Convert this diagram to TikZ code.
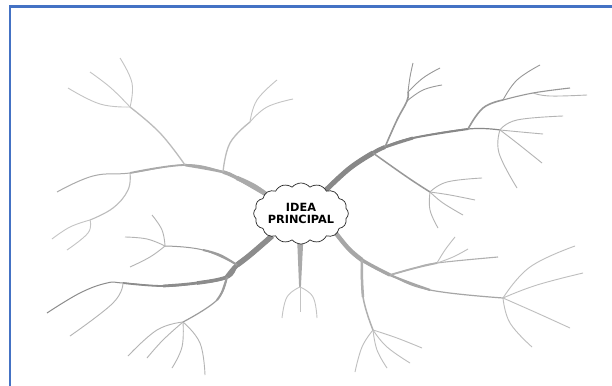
\documentclass[tikz,border=0pt]{standalone}
\usepackage{fontspec}
\newfontfamily\ideafont{DejaVu Sans}
\usetikzlibrary{shapes.symbols,backgrounds}
\definecolor{frameblue}{RGB}{68,114,196}
\definecolor{ulmain}{RGB}{170,170,170}
\definecolor{ulsub}{RGB}{188,188,188}
\definecolor{ultwig}{RGB}{196,196,196}
\definecolor{llmain}{RGB}{140,140,140}
\definecolor{llsub}{RGB}{156,156,156}
\definecolor{lltwig}{RGB}{180,180,180}
\definecolor{urmain}{RGB}{136,136,136}
\definecolor{ursub}{RGB}{152,152,152}
\definecolor{urtwig}{RGB}{180,180,180}
\definecolor{lrmain}{RGB}{166,166,166}
\definecolor{lrsub}{RGB}{176,176,176}
\definecolor{lrtwig}{RGB}{190,190,190}
\begin{document}
\begin{tikzpicture}[x=1pt,y=-1pt,line cap=round,line join=round,
  ideacloud/.style={cloud,cloud puffs=16,cloud puff arc=100,cloud ignores aspect,
    draw=black!85,fill=white,line width=0.7pt,minimum width=78pt,minimum height=61pt,
    inner sep=0pt,align=center,font=\ideafont\bfseries\fontsize{11.3}{12.5}\selectfont},
  twigline/.style={line width=0.9pt},
  framestroke/.style={draw=frameblue,line width=2.2pt},
  every plot/.style={smooth,tension=0.7}]
\useasboundingbox (0,0) rectangle (612,385);

\node[ideacloud] (idea) at (301,213.5) {IDEA\\PRINCIPAL};

% named points
\coordinate (ulS) at (270,197);
\coordinate (ulA) at (223,172);
\coordinate (ulB) at (185,165);
\coordinate (ulC) at (130,173);
\coordinate (ulE) at (57,192);
\coordinate (ulF) at (130,107);
\coordinate (ulG) at (250,122);
\coordinate (ulH) at (90,220);
\coordinate (llS) at (272,236);
\coordinate (llA) at (237,265);
\coordinate (llB) at (227,277);
\coordinate (llC) at (123,283);
\coordinate (llE) at (47,313);
\coordinate (llF) at (165,246);
\coordinate (llG) at (183,322);
\coordinate (bcA) at (300,287);
\coordinate (urS) at (326,190);
\coordinate (urA) at (373,153);
\coordinate (urB) at (385,147);
\coordinate (urC) at (413,138);
\coordinate (urD) at (468,129);
\coordinate (urE) at (500,130);
\coordinate (urF) at (430,192);
\coordinate (urG) at (407,101);
\coordinate (urH) at (408,92);
\coordinate (urI) at (503,100);
\coordinate (urJ) at (533,93);
\coordinate (lrS) at (332,228);
\coordinate (lrA) at (362,260);
\coordinate (lrB) at (390,275);
\coordinate (lrC) at (430,290);
\coordinate (lrE) at (503,298);
\coordinate (lrF) at (437,263);
\coordinate (lrG) at (373,330);

\begin{scope}[on background layer]
\fill[white] (0,0) rectangle (612,385);
\draw[framestroke] (9.8,386) -- (9.8,6.6) -- (613,6.6);
% ---------- upper left ----------
\draw[ulmain,line width=1pt] plot coordinates {(ulS) (237,178) (ulA) (ulB) (ulC) (93,176) (ulE)};
\draw[ulmain,line width=1.8pt] plot coordinates {(ulS) (237,178) (ulA) (ulB) (ulC)};
\draw[ulmain,line width=2.6pt] plot coordinates {(ulS) (237,178) (ulA) (ulB)};
\draw[ulmain,line width=3.6pt] plot coordinates {(ulS) (237,178) (ulA)};
\draw[ulmain,line width=4.4pt] plot coordinates {(ulS) (254,186) (237,178)};
\draw[ulsub,line width=1.3pt] plot coordinates {(ulB) (160,133) (ulF)};
\draw[ultwig,twigline] plot coordinates {(ulF) (100,104) (68,88)};
\draw[ultwig,twigline] plot coordinates {(ulF) (111,88) (90,72)};
\draw[ultwig,twigline] plot coordinates {(ulF) (132,83) (120,58)};
\draw[ulsub,line width=1.3pt] plot coordinates {(ulA) (230,143) (ulG)};
\draw[ultwig,twigline] plot coordinates {(ulG) (257,100) (277,80)};
\draw[ultwig,twigline] plot coordinates {(ulG) (267,107) (293,99)};
\draw[ulsub,line width=1.1pt] plot coordinates {(ulC) (128,190) (113,208) (ulH)};
\draw[ultwig,twigline] plot coordinates {(ulH) (70,227) (52,239)};
\draw[ultwig,twigline] plot coordinates {(ulH) (88,233) (67,250)};
% ---------- lower left ----------
\draw[llmain,line width=1pt] plot coordinates {(llS) (250,255) (llA) (llB) (197,283) (163,286) (llC) (107,283) (80,293) (llE)};
\draw[llmain,line width=1.8pt] plot coordinates {(llS) (250,255) (llA) (llB) (197,283) (163,286) (llC)};
\draw[llmain,line width=2.8pt] plot coordinates {(llS) (250,255) (llA) (llB) (197,283) (163,286)};
\draw[llmain,line width=3.6pt] plot coordinates {(llS) (250,255) (llA) (llB) (197,283)};
\draw[llmain,line width=4.6pt] plot coordinates {(llS) (250,255) (llA) (llB)};
\draw[llmain,line width=5.4pt] plot coordinates {(llS) (250,255) (llA)};
\draw[llsub,line width=1pt] plot coordinates {(llA) (203,250) (llF)};
\draw[llsub,line width=2pt] plot coordinates {(llA) (220,255) (203,250)};
\draw[lltwig,twigline] plot coordinates {(llF) (162,230) (152,215)};
\draw[lltwig,twigline] plot coordinates {(llF) (147,239) (125,237)};
\draw[lltwig,twigline] plot coordinates {(llF) (150,257) (130,267)};
\draw[llsub,line width=1.2pt] plot coordinates {(llB) (217,300) (llG)};
\draw[llsub,line width=2pt] plot coordinates {(llB) (222,292) (217,300)};
\draw[lltwig,twigline] plot coordinates {(llG) (157,330) (128,356)};
\draw[lltwig,twigline] plot coordinates {(llG) (163,340) (147,358)};
\draw[lltwig,twigline] plot coordinates {(llG) (182,347) (172,368)};
\draw[lltwig,twigline] plot coordinates {(llG) (200,343) (205,375)};
\draw[lltwig,twigline] plot coordinates {(llC) (113,303) (70,336)};
% ---------- bottom centre ----------
\fill[ulmain] (297,236) -- (303.5,236) -- (300.9,287) -- (299.1,287) -- cycle;
\draw[ultwig,twigline] plot coordinates {(bcA) (287,297) (282,318)};
\draw[ultwig,twigline] (bcA) -- (300,312);
\draw[ultwig,twigline] plot coordinates {(bcA) (313,297) (317,318)};
% ---------- upper right ----------
\draw[urmain,line width=1.2pt] plot coordinates {(urS) (350,168) (urA) (urB) (urC) (urD) (urE)};
\draw[urmain,line width=2pt] plot coordinates {(urS) (350,168) (urA) (urB) (urC) (urD)};
\draw[urmain,line width=3pt] plot coordinates {(urS) (350,168) (urA) (urB) (urC)};
\draw[urmain,line width=4pt] plot coordinates {(urS) (350,168) (urA) (urB)};
\draw[urmain,line width=5pt] plot coordinates {(urS) (350,168) (urA)};
\draw[urtwig,twigline] plot coordinates {(urE) (517,120) (563,116)};
\draw[urtwig,twigline] plot coordinates {(urE) (521,132) (543,134)};
\draw[urtwig,twigline] plot coordinates {(urE) (517,143) (542,163)};
\draw[urtwig,twigline] plot coordinates {(urE) (499,153) (517,188)};
\draw[ursub,line width=1.5pt] plot coordinates {(urA) (407,177) (urF)};
\draw[urtwig,twigline] plot coordinates {(urF) (447,182) (482,178)};
\draw[urtwig,twigline] plot coordinates {(urF) (450,195) (475,200)};
\draw[urtwig,twigline] plot coordinates {(urF) (443,203) (463,215)};
\draw[urtwig,twigline] plot coordinates {(urF) (430,210) (438,228)};
\draw[ursub,line width=1.6pt] plot coordinates {(urB) (397,120) (urG) (urH)};
\draw[ursub,twigline] plot coordinates {(urG) (423,90) (442,85)};
\draw[ursub,twigline] plot coordinates {(urH) (410,77) (413,63)};
\draw[ursub,twigline] plot coordinates {(urH) (423,78) (440,68)};
\draw[ursub,line width=1.6pt] plot coordinates {(urD) (483,108) (urI)};
\draw[ursub,twigline] plot coordinates {(urI) (517,80) (540,65)};
\draw[ursub,line width=1.1pt] plot coordinates {(urI) (urJ) (570,88)};
\draw[urtwig,twigline] plot coordinates {(urJ) (550,96) (587,95)};
% ---------- lower right ----------
\draw[lrmain,line width=1.2pt] plot coordinates {(lrS) (348,248) (lrA) (lrB) (lrC) (lrE)};
\draw[lrmain,line width=2.2pt] plot coordinates {(lrS) (348,248) (lrA) (lrB) (lrC)};
\draw[lrmain,line width=3.4pt] plot coordinates {(lrS) (348,248) (lrA) (lrB)};
\draw[lrmain,line width=4.4pt] plot coordinates {(lrS) (348,248) (lrA)};
\draw[lrtwig,twigline] plot coordinates {(lrE) (530,267) (575,246)};
\draw[lrtwig,twigline] plot coordinates {(lrE) (537,285) (583,273)};
\draw[lrtwig,twigline] plot coordinates {(lrE) (537,313) (570,328)};
\draw[lrtwig,twigline] plot coordinates {(lrE) (510,323) (532,347)};
\draw[lrsub,line width=1.1pt] plot coordinates {(lrB) (415,268) (lrF) (498,257)};
\draw[lrsub,line width=1.8pt] plot coordinates {(lrB) (415,268) (lrF)};
\draw[lrtwig,twigline] plot coordinates {(lrF) (445,250) (455,237)};
\draw[lrtwig,twigline] plot coordinates {(lrF) (453,257) (468,249)};
\draw[lrsub,line width=1.5pt] plot coordinates {(lrA) (363,297) (lrG)};
\draw[lrsub,line width=2.5pt] plot coordinates {(lrA) (362,280) (363,297)};
\draw[lrtwig,twigline] plot coordinates {(lrG) (362,347) (355,372)};
\draw[lrtwig,twigline] plot coordinates {(lrG) (377,350) (387,368)};
\draw[lrtwig,twigline] plot coordinates {(lrG) (387,347) (410,363)};
\draw[lrtwig,twigline] plot coordinates {(lrG) (397,338) (422,348)};
\end{scope}
\end{tikzpicture}
\end{document}
